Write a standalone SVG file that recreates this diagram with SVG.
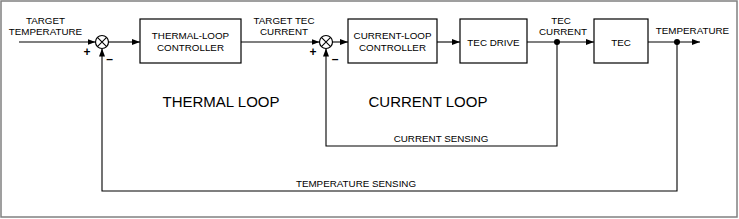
<svg xmlns="http://www.w3.org/2000/svg" width="739" height="219" viewBox="0 0 739 219">
<defs>
<style>
text{font-family:"Liberation Sans",Arial,sans-serif;fill:#000}
.s{font-size:9.8px}
.c{text-anchor:middle}
.big{font-size:15px}
.sign{font-size:12px;font-weight:bold;text-anchor:middle}
.box{fill:#fff;stroke:#000;stroke-width:1.2}
.ln{fill:none;stroke:#000;stroke-width:1.1}
.sum{fill:#fff;stroke:#000;stroke-width:1.2}
</style>
<marker id="ah" viewBox="0 0 8 6" refX="8" refY="3" markerWidth="8" markerHeight="6" markerUnits="userSpaceOnUse" orient="auto">
<path d="M0,0 L8,3 L0,6 Z" fill="#000"/>
</marker>
</defs>
<rect x="1" y="1" width="736" height="216" fill="#fff" stroke="#808080" stroke-width="1.5"/>

<g id="connectors">
<line class="ln" x1="19" y1="42" x2="95.5" y2="42" marker-end="url(#ah)"/>
<line class="ln" x1="108.5" y1="42" x2="140" y2="42" marker-end="url(#ah)"/>
<line class="ln" x1="241" y1="42" x2="319.5" y2="42" marker-end="url(#ah)"/>
<line class="ln" x1="332.5" y1="42" x2="348" y2="42" marker-end="url(#ah)"/>
<line class="ln" x1="437" y1="42" x2="460" y2="42" marker-end="url(#ah)"/>
<line class="ln" x1="527" y1="42" x2="594" y2="42" marker-end="url(#ah)"/>
<line class="ln" x1="648" y1="42" x2="700" y2="42" marker-end="url(#ah)"/>
<polyline class="ln" points="557,42 557,146 326,146 326,48.5" marker-end="url(#ah)"/>
<polyline class="ln" points="677,42 677,191 102,191 102,48.5" marker-end="url(#ah)"/>
<circle cx="557" cy="42" r="3" fill="#000"/>
<circle cx="677" cy="42" r="3" fill="#000"/>
<text class="s c" x="45.5" y="23.5">TARGET</text>
<text class="s c" x="45.5" y="35">TEMPERATURE</text>
<text class="s c" x="284" y="23.5">TARGET TEC</text>
<text class="s c" x="284" y="35">CURRENT</text>
<text class="s c" x="561" y="23.5">TEC</text>
<text class="s c" x="563" y="35">CURRENT</text>
<text class="s c" x="692.5" y="34">TEMPERATURE</text>
<text class="s c" x="441" y="141.5">CURRENT SENSING</text>
<text class="s c" x="356" y="187">TEMPERATURE SENSING</text>
</g>

<g id="sum1">
<circle class="sum" cx="102" cy="42" r="6.5"/>
<path class="ln" d="M97.4,37.4 L106.6,46.6 M106.6,37.4 L97.4,46.6"/>
<text class="sign" x="87" y="56">+</text>
<text class="sign" x="109.5" y="63">–</text>
</g>

<g id="sum2">
<circle class="sum" cx="326" cy="42" r="6.5"/>
<path class="ln" d="M321.4,37.4 L330.6,46.6 M330.6,37.4 L321.4,46.6"/>
<text class="sign" x="313" y="56">+</text>
<text class="sign" x="335" y="63">–</text>
</g>

<g id="thermal-controller">
<rect class="box" x="140" y="19" width="101" height="44"/>
<text class="s c" x="190.5" y="38.5">THERMAL-LOOP</text>
<text class="s c" x="190.5" y="50.5">CONTROLLER</text>
</g>

<g id="current-controller">
<rect class="box" x="348" y="19" width="89" height="44"/>
<text class="s c" x="392.5" y="38.5">CURRENT-LOOP</text>
<text class="s c" x="392.5" y="50.5">CONTROLLER</text>
</g>

<g id="tec-drive">
<rect class="box" x="460" y="19" width="67" height="44"/>
<text class="s c" x="493.5" y="45.5">TEC DRIVE</text>
</g>

<g id="tec">
<rect class="box" x="594" y="19" width="54" height="44"/>
<text class="s c" x="621" y="45.5">TEC</text>
</g>

<g id="thermal-loop-label">
<text class="big c" x="221" y="106.5">THERMAL LOOP</text>
</g>
<g id="current-loop-label">
<text class="big c" x="428" y="106.5">CURRENT LOOP</text>
</g>
</svg>
